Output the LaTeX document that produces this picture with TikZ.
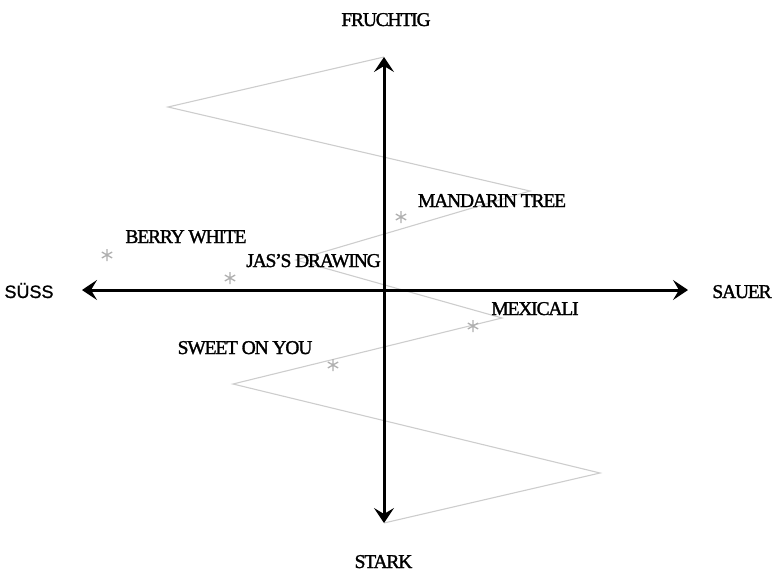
\documentclass[tikz,border=0pt]{standalone}
\usepackage{fontspec}
\setmainfont{Liberation Serif}[FakeBold=1.5,LetterSpace=-6]
\newfontfamily\sansfont{Liberation Sans}[FakeBold=1.0]
\usetikzlibrary{arrows.meta}
\definecolor{zigcol}{RGB}{205,205,205}
\definecolor{starcol}{RGB}{175,175,175}
\begin{document}
\begin{tikzpicture}[x=1pt,y=-1pt,
  axis/.style={line width=3pt,-{Stealth[length=15pt,width=20pt,inset=6pt]}},
  zig/.style={draw=zigcol,line width=1.1pt,line join=miter},
  lab/.style={font=\fontsize{19.5}{22}\selectfont,inner sep=0pt,anchor=base,text depth=0pt},
  flavourstar/.style={minimum size=13pt,inner sep=0pt,
    path picture={
      \draw[starcol,line width=1.3pt]
        ([shift={(90:6pt)}]path picture bounding box.center) -- ([shift={(270:6pt)}]path picture bounding box.center)
        ([shift={(30:6pt)}]path picture bounding box.center) -- ([shift={(210:6pt)}]path picture bounding box.center)
        ([shift={(150:6pt)}]path picture bounding box.center) -- ([shift={(330:6pt)}]path picture bounding box.center);
    }}
]
\useasboundingbox (0,0) rectangle (777,573);

% axis ends
\coordinate (o) at (384,290);
\coordinate (top) at (384,57);
\coordinate (bot) at (384,523);
\coordinate (left) at (82,290);
\coordinate (right) at (688,290);

% zig-zag corners
\coordinate (p1) at (168,107);
\coordinate (p2) at (530,191);
\coordinate (p3) at (296,260);
\coordinate (p4) at (502,318);
\coordinate (p5) at (233,384);
\coordinate (p6) at (600,473);

\path[zig] (top) -- (p1) -- (p2) -- (p3) -- (p4) -- (p5) -- (p6) -- (bot);

% axes
\draw[axis] (o) -- (top);
\draw[axis] (o) -- (bot);
\draw[axis] (o) -- (left);
\draw[axis] (o) -- (right);

% axis labels
\node[lab] (fruchtig) at (386,26) {FRUCHTIG};
\node[lab] (stark) at (383.5,568) {STARK};
\node[lab,font=\sansfont\fontsize{18}{20}\selectfont] (suess) at (29,298) {SÜSS};
\node[lab] (sauer) at (742,298) {SAUER};

% stars
\node[flavourstar] (s1) at (107,255) {};
\node[flavourstar] (s2) at (230,278) {};
\node[flavourstar] (s3) at (401,217) {};
\node[flavourstar] (s4) at (473,326) {};
\node[flavourstar] (s5) at (333,365) {};

% product labels
\node[lab] (berry) at (186,243) {BERRY WHITE};
\node[lab] (jas) at (313.5,267) {JAS'S DRAWING};
\node[lab] (mandarin) at (492,207) {MANDARIN TREE};
\node[lab] (mexicali) at (535,315) {MEXICALI};
\node[lab] (sweet) at (245,354) {SWEET ON YOU};
\end{tikzpicture}
\end{document}
